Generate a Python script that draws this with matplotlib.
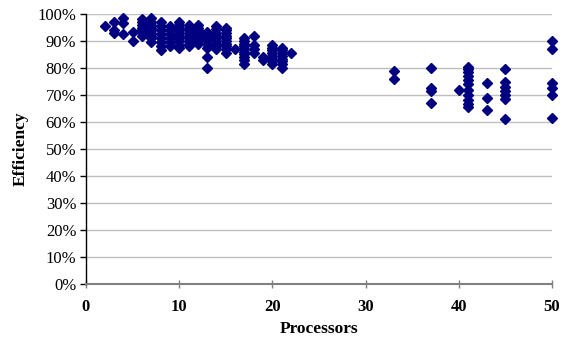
import matplotlib
matplotlib.use("Agg")
import matplotlib.pyplot as plt
from matplotlib.ticker import FuncFormatter

# Data: processors -> list of efficiencies (%)
processors = [2, 3, 4, 5, 6, 7, 8, 9, 10, 11, 12, 13, 14, 15, 16, 17, 18, 19, 20, 21, 22,
              33, 37, 40, 41, 43, 45, 50]
efficiency = [
    [95.5],
    [97, 94, 93],
    [98.5, 96.5, 92.5],
    [93.5, 90],
    [98, 97, 96, 95, 94, 93, 92],
    [98.5, 97, 96, 95, 94, 93, 92, 91, 89.5],
    [97, 95.5, 94, 92.5, 91, 89.5, 88, 86.5],
    [95.5, 94, 92.5, 91, 89.5, 88],
    [97, 96, 95, 94, 93, 92, 91, 90, 88.5, 87.5],
    [96, 95, 94, 93, 92, 91, 90, 89, 88],
    [96, 95, 94, 93, 92, 91, 90, 89],
    [93.5, 92.5, 91.5, 90.5, 89, 87.5, 84, 80],
    [95.5, 94.5, 93, 92, 91, 90, 89, 88, 87],
    [95, 94, 93, 92, 91, 90, 89, 88, 87, 85.5],
    [87],
    [91, 90, 89, 88, 87, 86, 85, 84, 83, 81.5],
    [92, 88.5, 87, 85.5],
    [84, 83],
    [88.5, 87.5, 86.5, 85.5, 84.5, 83.5, 82.5, 81.5],
    [87.5, 86.5, 85.5, 84.5, 83.5, 82.5, 81.5, 80],
    [85.5],
    [79, 76],
    [80, 72.5, 71.5, 67],
    [72],
    [80.5, 79.5, 78.5, 77, 75.5, 74, 72, 70, 68, 66.5, 65.5],
    [74.5, 69, 64.5],
    [79.5, 75, 73, 71.5, 70, 68.5, 61],
    [90, 87, 74.5, 72.5, 70, 61.5],
]
x_ticks = [0, 10, 20, 30, 40, 50]
y_ticks = list(range(0, 101, 10))

xs = []
ys = []
for p, effs in zip(processors, efficiency):
    for e in effs:
        xs.append(p)
        ys.append(e)

plt.rcParams['font.family'] = ['Liberation Serif', 'DejaVu Serif']

fig = plt.figure(figsize=(5.63, 3.38), dpi=100)
ax = fig.add_axes([86/563, 1 - 284/338, (552 - 86)/563, (284 - 14)/338])

ax.plot(xs, ys, linestyle='none', marker='D', markersize=5.4,
        color='#000080', markeredgecolor='#000080', clip_on=False, zorder=3)

ax.set_xlim(0, 50)
ax.set_ylim(0, 100)
ax.set_xticks(x_ticks)
ax.set_yticks(y_ticks)
ax.yaxis.set_major_formatter(FuncFormatter(lambda v, _: f"{int(v)}%"))

ax.grid(axis='y', color='#c0c0c0', linewidth=1.0)
ax.set_axisbelow(True)
for s in ['top', 'right']:
    ax.spines[s].set_visible(False)
ax.spines['left'].set_color('black')
ax.spines['left'].set_linewidth(1.0)
ax.spines['bottom'].set_color('#808080')
ax.spines['bottom'].set_linewidth(1.5)

ax.tick_params(axis='y', direction='out', length=4, width=1, labelsize=12, pad=3, colors='black')
ax.tick_params(axis='x', direction='inout', length=6, width=1, labelsize=12, pad=8, color='#808080')
for lbl in ax.get_xticklabels():
    lbl.set_fontweight('bold')

ax.set_xlabel('Processors', fontsize=12.5, fontweight='bold', labelpad=4)
ax.set_ylabel('Efficiency', fontsize=12.5, fontweight='bold', labelpad=6)

fig.savefig('out.png', dpi=100)
